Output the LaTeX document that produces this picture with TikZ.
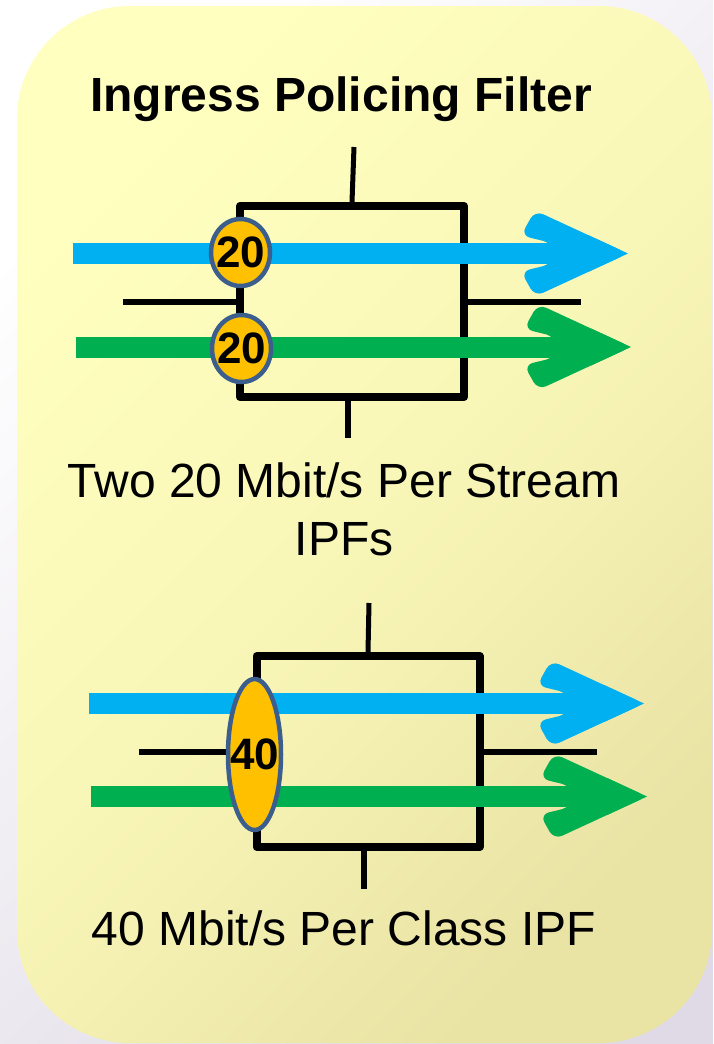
\documentclass[tikz,border=0pt]{standalone}
\usepackage{fontspec}
\setmainfont{Liberation Sans}
\usetikzlibrary{shapes.geometric}
\definecolor{flowblue}{HTML}{00B0F0}
\definecolor{flowgreen}{HTML}{00B050}
\definecolor{meterfill}{HTML}{FFC000}
\definecolor{meterline}{HTML}{3C5E8C}
\definecolor{paneltop}{HTML}{FFFFC0}
\definecolor{panelbot}{HTML}{E9E3A4}
\definecolor{pagebot}{HTML}{E0DAE6}
\newcommand\flowarrow[4]{% colour, x start, x tip, y
  \fill[#1] (#2,#4-10.5) rectangle (#3-60,#4+10.5);
  \fill[#1, rounded corners=9] (#3,#4) -- (#3-93,#4-43) -- (#3-107,#4-18) -- (#3-76,#4-10.5)
     -- (#3-76,#4+10.5) -- (#3-107,#4+18) -- (#3-93,#4+43) -- cycle;
  \fill[#1] (#3,#4) -- (#3-40,#4-18.5) -- (#3-40,#4+18.5) -- cycle;
}
\tikzset{
  filterbox/.style={draw=black, line width=8, line join=round, inner sep=0, outer sep=4},
  stub/.style={draw=black, line width=6},
  meter/.style={ellipse, draw=meterline, fill=meterfill, line width=4.5, inner xsep=-8, inner ysep=0,
     font=\fontsize{44}{44}\selectfont\bfseries},
  caption/.style={anchor=base, inner sep=0, font=\fontsize{48}{58}\selectfont}
}
\begin{document}
\begin{tikzpicture}[x=1pt,y=-1pt]
\useasboundingbox (0,0) rectangle (713,1044);
% page background
\shade[top color=white, bottom color=pagebot, shading angle=45] (0,0) rectangle (713,1044);
% panel
\shade[top color=paneltop, bottom color=panelbot, middle color=paneltop!70!panelbot, shading angle=45, rounded corners=113]
  (17,6) rectangle (712,1043);

\node[caption, font=\fontsize{48}{58}\selectfont\bfseries] (title) at (341,111) {Ingress Policing Filter};

% ---------- upper filter ----------
\node[filterbox, minimum width=224, minimum height=191] (box1) at (352,301.5) {};
\coordinate (t1) at (354,147);
\coordinate (b1) at (348,438);
\coordinate (l1) at (123,302);
\coordinate (r1) at (580.5,302);
\draw[stub, line width=5] (t1) -- (box1.north);
\draw[stub] (box1.south -| b1) -- (b1);
\draw[stub] (l1) -- (l1 -| box1.west);
\draw[stub] (box1.east |- r1) -- (r1);
\flowarrow{flowblue}{73}{628}{253.5}
\flowarrow{flowgreen}{75.6}{631}{347}
\node[meter, minimum width=59, minimum height=67] (m1) at (240.5,252.5) {20};
\node[meter, minimum width=59, minimum height=67] (m2) at (241.5,348.5) {20};
\node[caption] (cap1a) at (344,497) {Two 20 Mbit/s Per Stream};
\node[caption] (cap1b) at (344,555) {IPFs};

% ---------- lower filter ----------
\node[filterbox, minimum width=223, minimum height=191] (box2) at (368,751.5) {};
\coordinate (t2) at (369,603);
\coordinate (b2) at (363.7,889);
\coordinate (l2) at (139,752);
\coordinate (r2) at (597,752);
\draw[stub, line width=5] (t2) -- (box2.north);
\draw[stub] (box2.south -| b2) -- (b2);
\draw[stub] (l2) -- (l2 -| box2.west);
\draw[stub] (box2.east |- r2) -- (r2);
\flowarrow{flowblue}{89}{644}{703.5}
\flowarrow{flowgreen}{91.4}{647}{796.5}
\node[meter, minimum width=53, minimum height=151] (m3) at (254.5,754.5) {40};
\node[caption] (cap2) at (344,945) {40 Mbit/s Per Class IPF};
\end{tikzpicture}
\end{document}
